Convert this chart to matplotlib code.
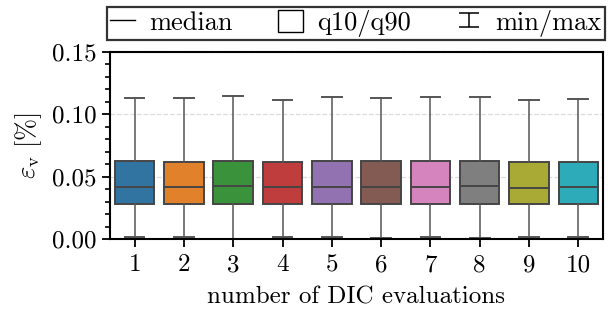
import numpy as np
import matplotlib
matplotlib.use("Agg")
import matplotlib.pyplot as plt
from matplotlib.lines import Line2D
from matplotlib.patches import Patch
from matplotlib.path import Path
from matplotlib.ticker import FormatStrFormatter, MultipleLocator

# fonte tipo LaTeX (Computer Modern)
plt.rcParams['font.family'] = 'serif'
plt.rcParams['font.serif'] = ['cmr10']
plt.rcParams['mathtext.fontset'] = 'cm'
plt.rcParams['axes.formatter.use_mathtext'] = True

# dados
avaliacoes = ['1', '2', '3', '4', '5', '6', '7', '8', '9', '10']
v_min = [0.0013, 0.0013, 0.0003, 0.0013, 0.0018, 0.0010, 0.0018, 0.0010, 0.0018, 0.0018]
q10 = [0.0278, 0.0278, 0.0283, 0.0278, 0.0280, 0.0280, 0.0280, 0.0283, 0.0280, 0.0280]
mediana = [0.0415, 0.0415, 0.0425, 0.0415, 0.0420, 0.0420, 0.0420, 0.0427, 0.0413, 0.0420]
q90 = [0.0623, 0.0620, 0.0628, 0.0618, 0.0626, 0.0626, 0.0628, 0.0628, 0.0615, 0.0620]
v_max = [0.1128, 0.1128, 0.1144, 0.1117, 0.1140, 0.1133, 0.1140, 0.1140, 0.1115, 0.1125]
cores = ['#3274a1', '#e1812c', '#3a923a', '#c03d3e', '#9372b2',
         '#845b53', '#d684bd', '#7f7f7f', '#a9aa35', '#2eabb8']

linha = '#454545'
fs = 18

fig = plt.figure(figsize=(6.09, 3.22), dpi=100)
ax = fig.add_axes([0.1806, 0.2578, 0.8094, 0.5807])

stats = []
for i in range(len(avaliacoes)):
    stats.append({'whislo': v_min[i], 'q1': q10[i], 'med': mediana[i],
                  'q3': q90[i], 'whishi': v_max[i], 'fliers': []})

bp = ax.bxp(stats, positions=np.arange(len(avaliacoes)), widths=0.8,
            patch_artist=True, showfliers=False,
            boxprops=dict(edgecolor=linha, linewidth=1.4),
            medianprops=dict(color=linha, linewidth=1.4),
            whiskerprops=dict(color='#555555', linewidth=1.1),
            capprops=dict(color='#555555', linewidth=1.4))
for caixa, c in zip(bp['boxes'], cores):
    caixa.set_facecolor(c)

ax.set_xlim(-0.5, len(avaliacoes) - 0.5)
ax.set_ylim(0, 0.15)
ax.set_xticks(np.arange(len(avaliacoes)))
ax.set_xticklabels(avaliacoes)
ax.yaxis.set_major_locator(MultipleLocator(0.05))
ax.yaxis.set_minor_locator(MultipleLocator(0.01))
ax.yaxis.set_major_formatter(FormatStrFormatter('%.2f'))
ax.tick_params(axis='both', which='major', labelsize=fs, length=6, width=1.3, direction='out')
ax.tick_params(axis='x', which='major', pad=5)
ax.tick_params(axis='y', which='minor', length=3.5, width=1.2, direction='out')
ax.yaxis.grid(True, which='major', color='#dcdcdc', linestyle='--', linewidth=0.9)
ax.set_axisbelow(True)
for s in ax.spines.values():
    s.set_linewidth(1.5)

ax.set_xlabel('number of DIC evaluations', fontsize=fs, labelpad=7)
ax.set_ylabel(r'$\varepsilon_{\mathrm{v}}\ [\%]$', fontsize=fs + 1, labelpad=6)

# legenda com símbolos próprios
ibeam = Path([(-1, 0.67), (1, 0.67), (0, 0.67), (0, -0.67), (-1, -0.67), (1, -0.67)],
             [Path.MOVETO, Path.LINETO, Path.MOVETO, Path.LINETO, Path.MOVETO, Path.LINETO])
h_med = Line2D([], [], color='black', linewidth=1.0)
h_box = Patch(facecolor='white', edgecolor='black', linewidth=1.0)
h_mm = Line2D([], [], color='black', linestyle='none', marker=ibeam,
              markersize=15, markeredgewidth=1.1)
leg = ax.legend([h_med, h_box, h_mm], ['median', 'q10/q90', 'min/max'],
                loc='lower left', bbox_to_anchor=(-0.007, 1.064, 1.011, 0.187),
                mode='expand', ncol=3, fontsize=19, frameon=True, fancybox=False,
                borderaxespad=0, borderpad=0.12, handlelength=0.95, handletextpad=0.55,
                handleheight=0.9)
leg.get_frame().set_edgecolor('black')
leg.get_frame().set_linewidth(1.6)

fig.savefig('out.png', dpi=100)
